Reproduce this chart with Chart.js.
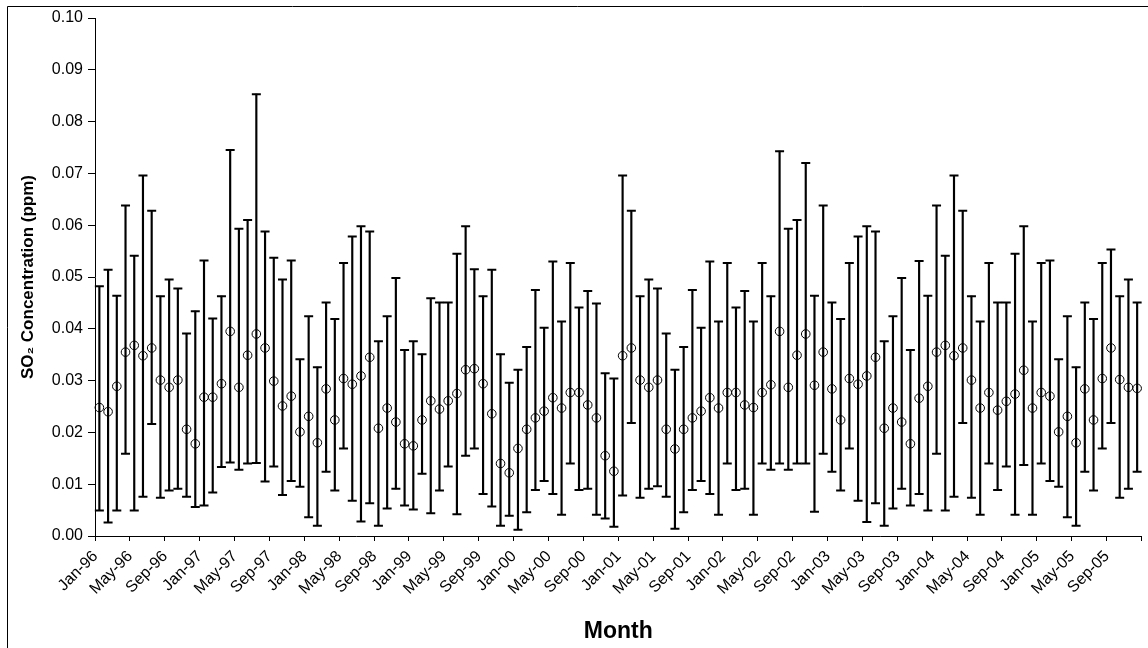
<!DOCTYPE html>
<html>
<head>
<meta charset="utf-8">
<script src="https://cdn.jsdelivr.net/npm/chart.js@4"></script>
<style>
	html, body { margin: 0; padding: 0; background: #fff; }
	#wrap { width: 1148px; height: 648px; position: relative; }
</style>
</head>
<body>
<div id="wrap"><canvas id="so2Chart"></canvas></div>
<script>
const monthNames = ["Jan", "Feb", "Mar", "Apr", "May", "Jun", "Jul", "Aug", "Sep", "Oct", "Nov", "Dec"];
const years = ["96", "97", "98", "99", "00", "01", "02", "03", "04", "05"];

// monthly mean, minimum and maximum SO2 (ppm), Jan-96 .. Dec-05
const meanValues = [
	0.0248, 0.0240, 0.0289, 0.0355, 0.0368, 0.0348, 0.0363, 0.0301, 0.0287, 0.0301, 0.0206, 0.0178,
	0.0268, 0.0268, 0.0294, 0.0395, 0.0287, 0.0349, 0.0390, 0.0363, 0.0299, 0.0251, 0.0270, 0.0201,
	0.0231, 0.0180, 0.0284, 0.0224, 0.0304, 0.0293, 0.0309, 0.0345, 0.0208, 0.0247, 0.0220, 0.0178,
	0.0174, 0.0224, 0.0261, 0.0245, 0.0261, 0.0275, 0.0321, 0.0323, 0.0294, 0.0236, 0.0140, 0.0122,
	0.0169, 0.0206, 0.0228, 0.0241, 0.0267, 0.0247, 0.0277, 0.0277, 0.0253, 0.0228, 0.0155, 0.0125,
	0.0348, 0.0363, 0.0301, 0.0287, 0.0301, 0.0206, 0.0168, 0.0206, 0.0228, 0.0241, 0.0267, 0.0247,
	0.0277, 0.0277, 0.0253, 0.0248, 0.0277, 0.0292, 0.0395, 0.0287, 0.0349, 0.0390, 0.0291, 0.0355,
	0.0284, 0.0224, 0.0304, 0.0293, 0.0309, 0.0345, 0.0208, 0.0247, 0.0220, 0.0178, 0.0266, 0.0289,
	0.0355, 0.0368, 0.0348, 0.0363, 0.0301, 0.0247, 0.0277, 0.0243, 0.0260, 0.0274, 0.0320, 0.0247,
	0.0277, 0.0270, 0.0201, 0.0231, 0.0180, 0.0284, 0.0224, 0.0304, 0.0363, 0.0302, 0.0287, 0.0285
];
const minValues = [
	0.0049, 0.0026, 0.0049, 0.0159, 0.0049, 0.0076, 0.0216, 0.0074, 0.0088, 0.0091, 0.0076, 0.0056,
	0.0059, 0.0084, 0.0133, 0.0142, 0.0128, 0.0140, 0.0141, 0.0105, 0.0134, 0.0079, 0.0106, 0.0095,
	0.0036, 0.0020, 0.0124, 0.0088, 0.0169, 0.0068, 0.0028, 0.0063, 0.0020, 0.0053, 0.0091, 0.0059,
	0.0051, 0.0120, 0.0044, 0.0088, 0.0134, 0.0042, 0.0155, 0.0169, 0.0081, 0.0057, 0.0020, 0.0039,
	0.0012, 0.0046, 0.0089, 0.0106, 0.0081, 0.0041, 0.0140, 0.0089, 0.0091, 0.0041, 0.0034, 0.0018,
	0.0078, 0.0218, 0.0074, 0.0091, 0.0096, 0.0076, 0.0014, 0.0046, 0.0089, 0.0106, 0.0081, 0.0041,
	0.0140, 0.0089, 0.0091, 0.0041, 0.0140, 0.0128, 0.0140, 0.0128, 0.0140, 0.0140, 0.0047, 0.0159,
	0.0124, 0.0088, 0.0169, 0.0068, 0.0027, 0.0063, 0.0020, 0.0053, 0.0091, 0.0059, 0.0081, 0.0049,
	0.0159, 0.0049, 0.0076, 0.0218, 0.0074, 0.0041, 0.0140, 0.0089, 0.0134, 0.0041, 0.0137, 0.0041,
	0.0140, 0.0106, 0.0095, 0.0036, 0.0020, 0.0124, 0.0088, 0.0169, 0.0218, 0.0074, 0.0091, 0.0124
];
const maxValues = [
	0.0482, 0.0514, 0.0464, 0.0638, 0.0541, 0.0696, 0.0628, 0.0463, 0.0495, 0.0478, 0.0391, 0.0434,
	0.0532, 0.0420, 0.0463, 0.0745, 0.0593, 0.0610, 0.0853, 0.0588, 0.0537, 0.0495, 0.0532, 0.0341,
	0.0424, 0.0326, 0.0451, 0.0419, 0.0527, 0.0578, 0.0598, 0.0588, 0.0376, 0.0424, 0.0498, 0.0359,
	0.0376, 0.0351, 0.0459, 0.0451, 0.0451, 0.0545, 0.0598, 0.0515, 0.0463, 0.0514, 0.0351, 0.0296,
	0.0321, 0.0365, 0.0475, 0.0402, 0.0530, 0.0414, 0.0527, 0.0441, 0.0473, 0.0449, 0.0314, 0.0304,
	0.0696, 0.0628, 0.0463, 0.0495, 0.0478, 0.0391, 0.0321, 0.0365, 0.0475, 0.0402, 0.0530, 0.0414,
	0.0527, 0.0441, 0.0473, 0.0414, 0.0527, 0.0463, 0.0743, 0.0593, 0.0610, 0.0720, 0.0464, 0.0638,
	0.0451, 0.0419, 0.0527, 0.0578, 0.0598, 0.0588, 0.0376, 0.0424, 0.0498, 0.0359, 0.0531, 0.0464,
	0.0638, 0.0541, 0.0696, 0.0628, 0.0463, 0.0414, 0.0527, 0.0451, 0.0451, 0.0545, 0.0598, 0.0414,
	0.0527, 0.0532, 0.0341, 0.0424, 0.0326, 0.0451, 0.0419, 0.0527, 0.0553, 0.0463, 0.0495, 0.0451
];
const yTicks = [0, 0.01, 0.02, 0.03, 0.04, 0.05, 0.06, 0.07, 0.08, 0.09, 0.10];

const labels = [];
years.forEach((y) => monthNames.forEach((m) => labels.push(m + "-" + y)));

const fontFamily = "'Liberation Sans', Arial, sans-serif";

// outer frame of the chart object
const framePlugin = {
	id: "frame",
	afterDraw(chart) {
		const ctx = chart.ctx;
		ctx.save();
		ctx.strokeStyle = "#000";
		ctx.lineWidth = 1;
		ctx.beginPath();
		ctx.moveTo(7.5, 648);
		ctx.lineTo(7.5, 6.5);
		ctx.lineTo(1148, 6.5);
		ctx.stroke();
		ctx.restore();
	},
};

const ctx = document.getElementById("so2Chart");
const chart = new Chart(ctx, {
	type: "bar",
	data: {
		labels: labels,
		datasets: [
			{
				label: "range",
				data: minValues.map((v, i) => [v, maxValues[i]]),
				backgroundColor: "#000",
				borderWidth: 0,
				barThickness: 1.5,
				order: 3,
			},
			{
				type: "line",
				label: "max",
				data: maxValues,
				showLine: false,
				pointStyle: "line",
				pointRadius: 4.5,
				pointBorderWidth: 2,
				borderColor: "#000",
				order: 2,
			},
			{
				type: "line",
				label: "min",
				data: minValues,
				showLine: false,
				pointStyle: "line",
				pointRadius: 4.5,
				pointBorderWidth: 2,
				borderColor: "#000",
				order: 2,
			},
			{
				type: "line",
				label: "mean",
				data: meanValues,
				showLine: false,
				pointStyle: "circle",
				pointRadius: 4.3,
				pointBorderWidth: 1,
				borderColor: "#000",
				pointBackgroundColor: "rgba(0,0,0,0)",
				order: 1,
			},
		],
	},
	options: {
		responsive: true,
		maintainAspectRatio: false,
		animation: false,
		layout: { padding: { left: 0, top: 18, right: 2, bottom: 0 } },
		plugins: {
			legend: { display: false },
			tooltip: { enabled: false },
		},
		scales: {
			x: {
				offset: true,
				grid: {
					offset: true,
					drawOnChartArea: false,
					tickLength: 5,
					tickColor: (c) => (c.type !== "tick" || c.index % 4 === 0 ? "#000" : "rgba(0,0,0,0)"),
				},
				border: { color: "#000", width: 1 },
				ticks: {
					autoSkip: false,
					maxRotation: 45,
					minRotation: 45,
					labelOffset: -4,
					padding: 6,
					color: "#000",
					font: { family: fontFamily, size: 16 },
					callback: (v, i) => (i % 4 === 0 ? labels[i] : ""),
				},
				title: {
					display: true,
					text: "Month",
					color: "#000",
					font: { family: fontFamily, size: 23, weight: "bold" },
					padding: { top: 0, bottom: 3 },
				},
				afterFit: (scale) => {
					scale.height = 112;
					scale.paddingLeft = 0;
					scale.paddingRight = 0;
				},
			},
			y: {
				min: 0,
				max: 0.1,
				afterBuildTicks: (scale) => { scale.ticks = yTicks.map((v) => ({ value: v })); },
				grid: {
					drawOnChartArea: false,
					tickLength: 7,
					tickColor: "#000",
				},
				border: { color: "#000", width: 1 },
				ticks: {
					padding: 5,
					color: "#000",
					font: { family: fontFamily, size: 16 },
					callback: (v) => v.toFixed(2),
				},
				title: {
					display: true,
					text: "SO\u2082 Concentration (ppm)",
					color: "#000",
					font: { family: fontFamily, size: 17, weight: "bold" },
					padding: { top: 18, bottom: 0 },
				},
				afterFit: (scale) => {
					scale.width = 95;
					scale.paddingTop = 0;
					scale.paddingBottom = 0;
				},
			},
		},
	},
	plugins: [framePlugin],
});
</script>
</body>
</html>
